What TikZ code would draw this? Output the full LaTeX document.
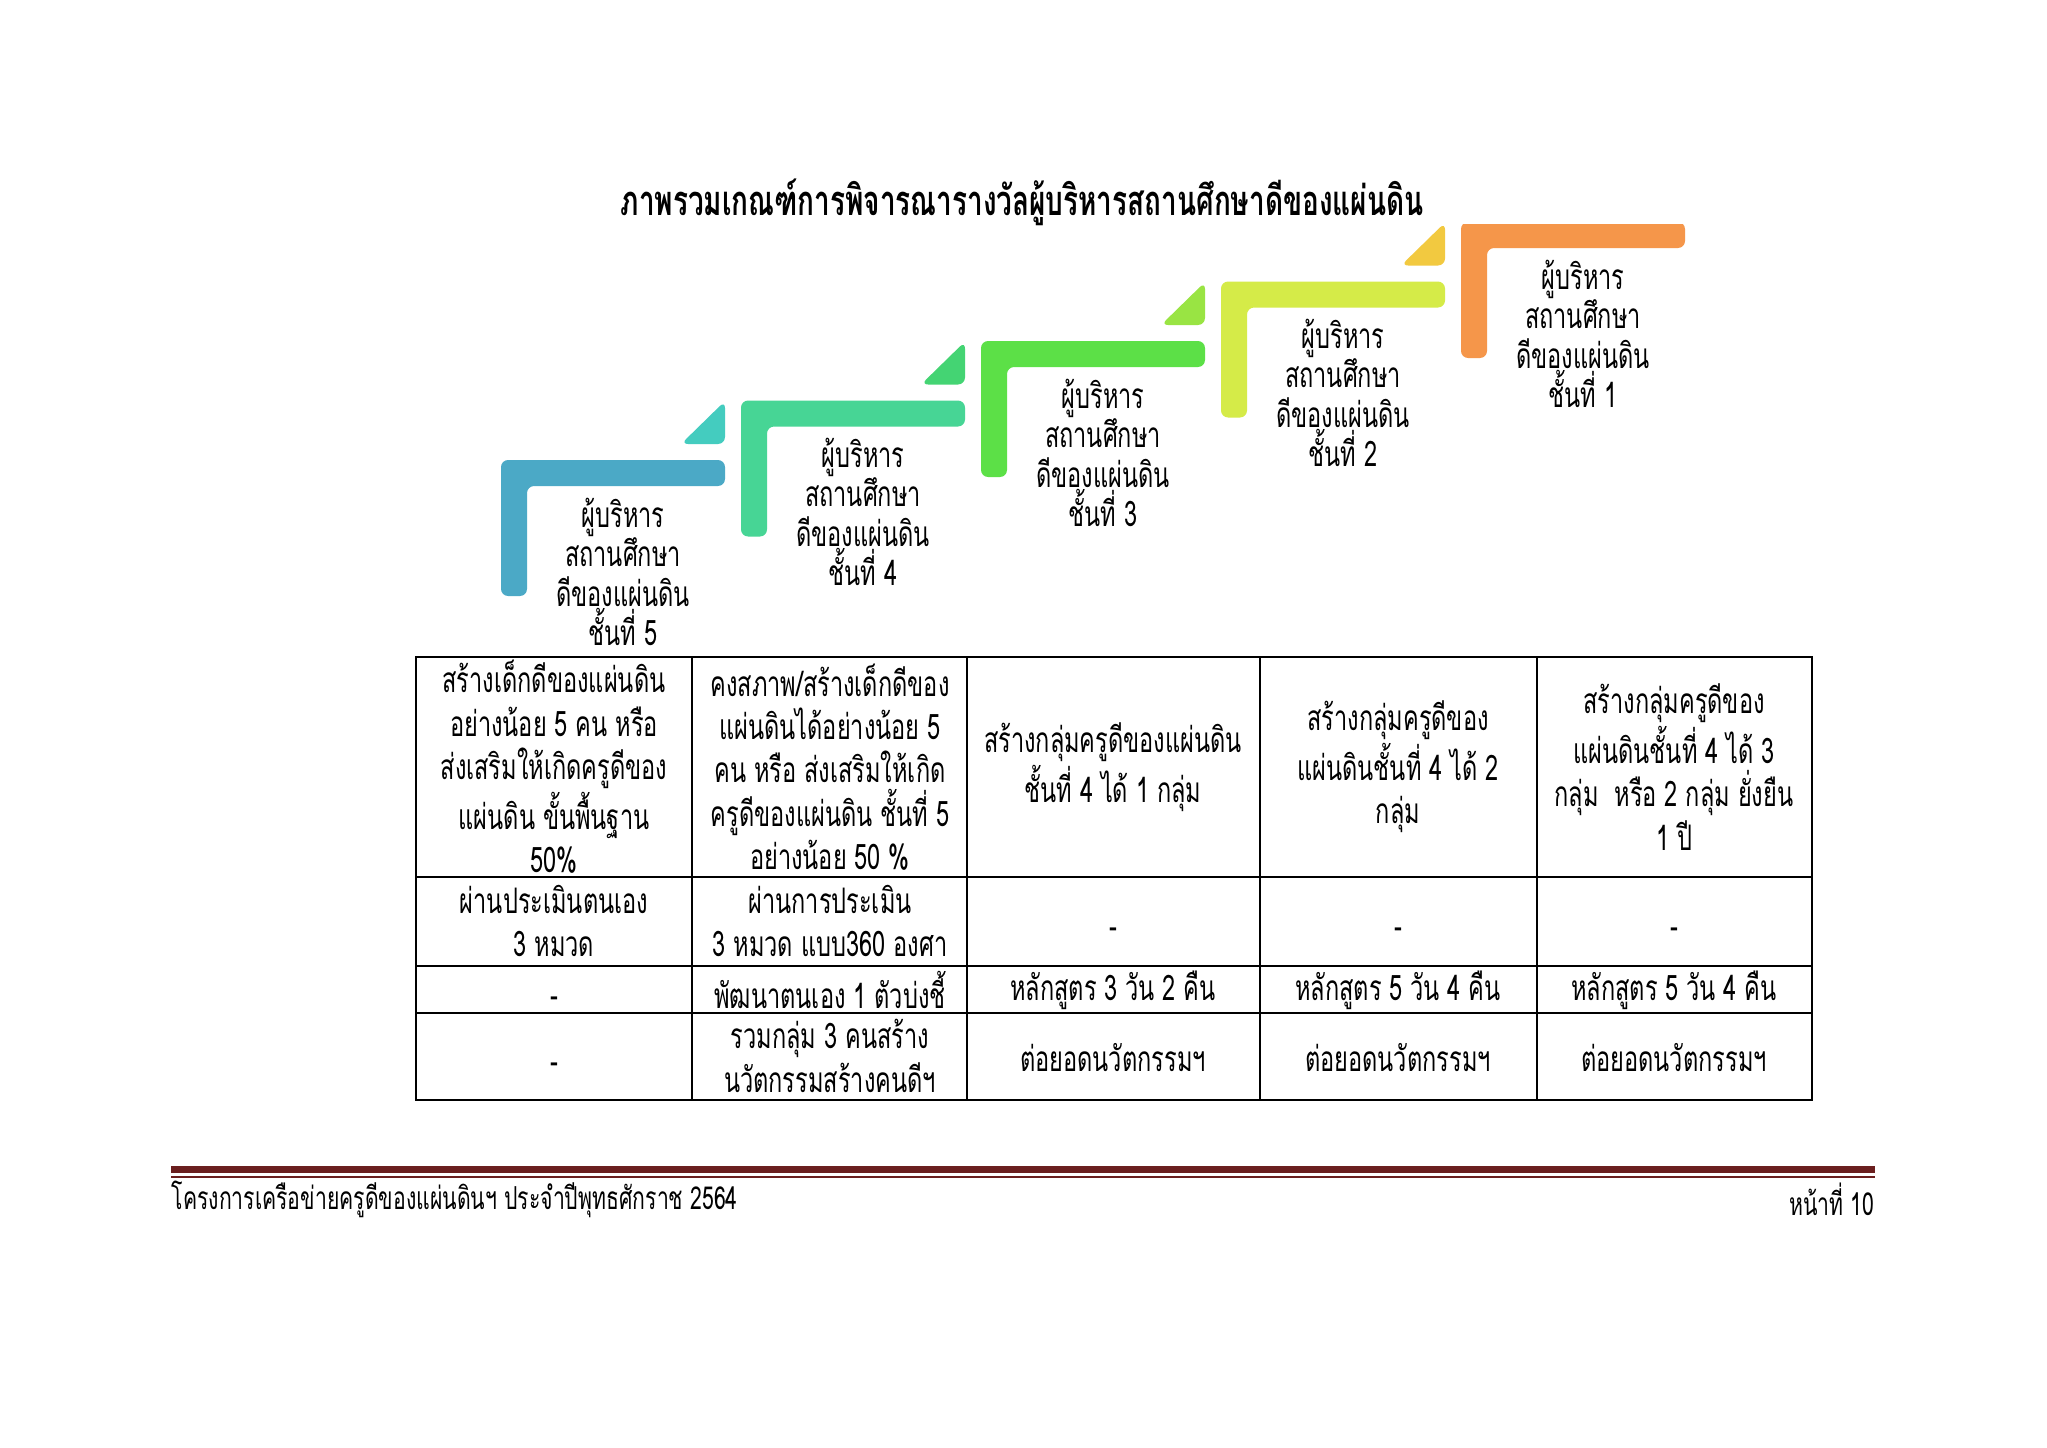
\documentclass[tikz,border=0pt]{standalone}
\usepackage{fontspec}
\setmainfont{Loma}[Script=Thai,FakeStretch=0.67]
\definecolor{bleu}{HTML}{4BA9C6}
\definecolor{turq}{HTML}{44CCBF}
\definecolor{menthe}{HTML}{47D595}
\definecolor{vert}{HTML}{44D473}
\definecolor{pomme}{HTML}{5CE047}
\definecolor{tilleul}{HTML}{99E443}
\definecolor{citron}{HTML}{D5EB48}
\definecolor{jaune}{HTML}{F2C940}
\definecolor{orange}{HTML}{F5964A}
\definecolor{bordeaux}{HTML}{6B1F1F}

\begin{document}
\begin{tikzpicture}[x=0.01cm,y=-0.01cm]
    \newcommand\marche[3]{\fill[#3,rounded corners=2pt] (#1,#2) -- ++(224,0) -- ++(0,26) -- ++(-198,0) -- ++(0,110) -- ++(-26,0) -- cycle;}
    \newcommand\coin[3]{\fill[#3,rounded corners=2pt] ({#1+180},{#2-16}) -- ++(44,0) -- ++(0,-43) -- cycle;}
    \tikzstyle{lab}=[align=center,inner sep=0pt,font=\fontsize{10}{11.2}\selectfont]
    \tikzstyle{cell}=[align=center,inner sep=0pt,font=\fontsize{10}{12.3}\selectfont]
    \tikzstyle{grid}=[line width=0.7pt]
    \tikzstyle{pied}=[inner sep=0pt,font=\fontsize{9}{10}\selectfont]
    \useasboundingbox (0,0) rectangle (2047,1448);
    \fill[white] (0,0) rectangle (2047,1448);
    \node[font=\fontsize{11.85}{14}\selectfont\bfseries] (titre) at (1022,202) {ภาพรวมเกณฑ์การพิจารณารางวัลผู้บริหารสถานศึกษาดีของแผ่นดิน};
    \begin{scope}
    \clip (0,224) rectangle (2047,700);
    \marche{501}{460}{bleu}   \coin{501}{460}{turq}
    \marche{741}{400.5}{menthe} \coin{741}{400.5}{vert}
    \marche{981}{341}{pomme}  \coin{981}{341}{tilleul}
    \marche{1221}{281.5}{citron} \coin{1221}{281.5}{jaune}
    \marche{1461}{222}{orange}
    \end{scope}
    \node[lab] (m5) at (623,572) {ผู้บริหาร\\สถานศึกษา\\ดีของแผ่นดิน\\ชั้นที่ 5};
    \node[lab] (m4) at (863,512) {ผู้บริหาร\\สถานศึกษา\\ดีของแผ่นดิน\\ชั้นที่ 4};
    \node[lab] (m3) at (1103,453) {ผู้บริหาร\\สถานศึกษา\\ดีของแผ่นดิน\\ชั้นที่ 3};
    \node[lab] (m2) at (1343,393) {ผู้บริหาร\\สถานศึกษา\\ดีของแผ่นดิน\\ชั้นที่ 2};
    \node[lab] (m1) at (1583,334) {ผู้บริหาร\\สถานศึกษา\\ดีของแผ่นดิน\\ชั้นที่ 1};
    % tableau
    \draw[grid] (416,657) rectangle (1812,1100);
    \draw[grid] (416,877) -- (1812,877) (416,966) -- (1812,966) (416,1013) -- (1812,1013);
    \draw[grid] (692,657) -- (692,1100) (967,657) -- (967,1100) (1260,657) -- (1260,1100) (1537,657) -- (1537,1100);
    \node[cell] (a1) at (554,767) {สร้างเด็กดีของแผ่นดิน\\อย่างน้อย 5 คน หรือ\\ส่งเสริมให้เกิดครูดีของ\\แผ่นดิน ขั้นพื้นฐาน\\50\%};
    \node[cell] (b1) at (830,767) {คงสภาพ/สร้างเด็กดีของ\\แผ่นดินได้อย่างน้อย 5\\คน หรือ ส่งเสริมให้เกิด\\ครูดีของแผ่นดิน ชั้นที่ 5\\อย่างน้อย 50 \%};
    \node[cell] (c1) at (1113,767) {สร้างกลุ่มครูดีของแผ่นดิน\\ชั้นที่ 4 ได้ 1 กลุ่ม};
    \node[cell] (d1) at (1398,767) {สร้างกลุ่มครูดีของ\\แผ่นดินชั้นที่ 4 ได้ 2\\กลุ่ม};
    \node[cell] (e1) at (1674,767) {สร้างกลุ่มครูดีของ\\แผ่นดินชั้นที่ 4 ได้ 3\\กลุ่ม\ \ หรือ 2 กลุ่ม ยั่งยืน\\1 ปี};
    \node[cell] (a2) at (554,921) {ผ่านประเมินตนเอง\\3 หมวด};
    \node[cell] (b2) at (830,921) {ผ่านการประเมิน\\3 หมวด แบบ360 องศา};
    \node[cell] (c2) at (1113,933) {-};
    \node[cell] (d2) at (1398,933) {-};
    \node[cell] (e2) at (1674,933) {-};
    \node[cell] (a3) at (554,1002) {-};
    \node[cell] (b3) at (830,990) {พัฒนาตนเอง 1 ตัวบ่งชี้};
    \node[cell] (c3) at (1113,990) {หลักสูตร 3 วัน 2 คืน};
    \node[cell] (d3) at (1398,990) {หลักสูตร 5 วัน 4 คืน};
    \node[cell] (e3) at (1674,990) {หลักสูตร 5 วัน 4 คืน};
    \node[cell] (a4) at (554,1068) {-};
    \node[cell] (b4) at (830,1056) {รวมกลุ่ม 3 คนสร้าง\\นวัตกรรมสร้างคนดีฯ};
    \node[cell] (c4) at (1113,1058) {ต่อยอดนวัตกรรมฯ};
    \node[cell] (d4) at (1398,1058) {ต่อยอดนวัตกรรมฯ};
    \node[cell] (e4) at (1674,1058) {ต่อยอดนวัตกรรมฯ};
    % pied de page
    \fill[bordeaux] (171,1166) rectangle (1875,1173);
    \fill[bordeaux] (171,1175.5) rectangle (1875,1177.5);
    \node[pied,anchor=west] (projet) at (171,1199) {โครงการเครือข่ายครูดีของแผ่นดินฯ ประจำปีพุทธศักราช 2564};
    \node[pied,anchor=east] (page) at (1875,1199) {หน้าที่ 10};
\end{tikzpicture}
\end{document}
